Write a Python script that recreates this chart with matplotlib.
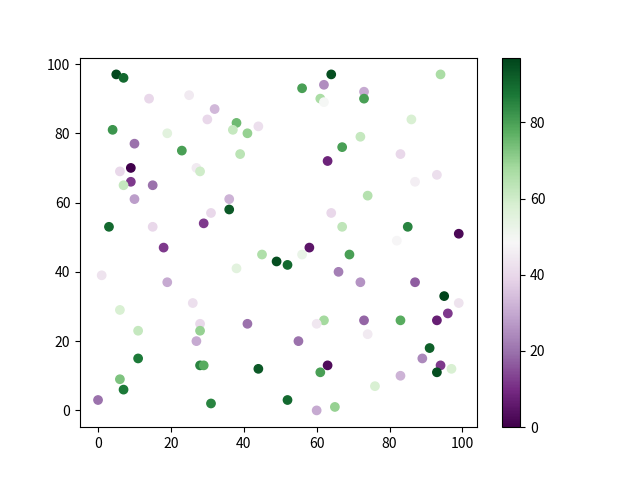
import matplotlib
matplotlib.use("Agg")
import matplotlib.pyplot as plt

plt.rcParams['font.family'] = ['Noto Sans CJK SC', 'DejaVu Sans']

x = [5, 7, 14, 25, 32, 30, 38, 37, 41, 44, 4, 19, 10, 23, 39, 9, 6, 27, 28, 9,
     7, 15, 10, 36, 36, 31, 3, 15, 29,
     64, 94, 56, 62, 73, 61, 62, 73, 86, 72, 67, 63, 83, 93, 87, 74, 64, 67, 85, 99, 82,
     18, 45, 49, 38, 1, 19, 26, 6, 28, 28, 11, 41, 27, 11, 28, 29, 44, 6, 7, 0, 31,
     58, 56, 69, 52, 66, 72, 87, 95, 99, 96, 93, 62, 60, 73, 83, 74, 55, 91, 89, 63,
     94, 61, 93, 97, 83, 76, 52, 60, 65]
y = [97, 96, 90, 91, 87, 84, 83, 81, 80, 82, 81, 80, 77, 75, 74, 70, 69, 70, 69, 66,
     65, 65, 61, 61, 58, 57, 53, 53, 54,
     97, 97, 93, 94, 92, 90, 89, 90, 84, 79, 76, 72, 74, 68, 66, 62, 57, 53, 53, 51, 49,
     47, 45, 43, 41, 39, 37, 31, 29, 25, 23, 23, 25, 20, 15, 13, 13, 12, 9, 6, 3, 2,
     47, 45, 45, 42, 40, 37, 37, 33, 31, 28, 26, 26, 25, 26, 26, 22, 20, 18, 15, 13,
     13, 11, 11, 12, 10, 7, 3, 0, 1]
c = [96, 90, 40, 45, 33, 40, 75, 62, 70, 42, 82, 55, 20, 80, 64, 0, 40, 45, 60, 12,
     62, 20, 28, 32, 93, 40, 90, 40, 12,
     95, 67, 80, 25, 30, 67, 49, 80, 58, 62, 80, 8, 40, 42, 46, 65, 40, 63, 85, 2, 48,
     12, 66, 95, 55, 43, 30, 42, 58, 40, 70, 62, 20, 30, 87, 85, 78, 93, 73, 87, 20, 85,
     5, 53, 80, 90, 22, 26, 17, 97, 43, 12, 7, 68, 44, 18, 78, 45, 20, 92, 24, 3,
     12, 80, 95, 58, 32, 58, 90, 30, 70]

fig, ax = plt.subplots(figsize=(6.4, 4.8), dpi=100)
sc = ax.scatter(x, y, c=c, cmap='PRGn')
fig.colorbar(sc, ax=ax)
fig.savefig('out.png')
